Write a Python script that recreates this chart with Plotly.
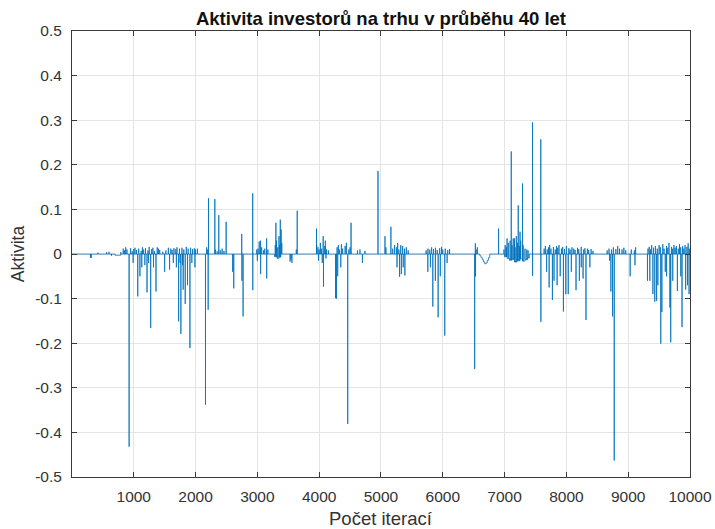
import numpy as np
import plotly.graph_objects as go

N_ITER = 10000

# Large individual trades: iteration index and activity value
spike_iter = [
    2210, 2312, 2376, 2495, 2747, 2925, 3030, 3050, 3150, 3300, 3371, 3385,
    3645, 3957, 4065, 4100, 4516, 4952, 5065, 5161, 6527, 6903, 7040, 7108,
    7160, 7221, 7250, 7290, 7452, 7586,
    925, 1065, 1100, 1215, 1274, 1360, 1500, 1580, 1726, 1763, 1800, 1833,
    1870, 1909, 2161, 2204, 2600, 2618, 2750, 2769, 2926, 3000, 3053, 3151,
    3559, 4070, 4265, 4280, 4350, 4462, 4700, 5301, 5330, 5387, 5758, 5839,
    5925, 6032, 6516, 7453, 7587, 7721, 7774, 7900, 7952, 7990, 8030, 8156,
    8210, 8270, 8317, 8380, 8700, 8720, 8747, 8774, 9032, 9110, 9312, 9400,
    9430, 9460, 9527, 9545, 9600, 9675, 9688, 9796, 9871, 9930, 9985,
]
spike_value = [
    0.125, 0.123, 0.087, 0.072, 0.045, 0.136, 0.028, 0.030, 0.035, 0.070, 0.077, 0.055,
    0.097, 0.057, 0.040, 0.030, 0.070, 0.186, 0.040, 0.061, 0.024, 0.057, 0.035, 0.230,
    0.035, 0.109, 0.050, 0.158, 0.295, 0.257,
    -0.432, -0.095, -0.050, -0.086, -0.166, -0.084, -0.040, -0.035, -0.151, -0.179, -0.080, -0.112,
    -0.070, -0.211, -0.338, -0.125, -0.040, -0.077, -0.060, -0.140, -0.081, -0.015, -0.045, -0.055,
    -0.020, -0.073, -0.099, -0.100, -0.030, -0.381, -0.020, -0.051, -0.045, -0.048, -0.040, -0.118,
    -0.142, -0.183, -0.258, -0.049, -0.152, -0.075, -0.103, -0.050, -0.129, -0.090, -0.090, -0.081,
    -0.060, -0.055, -0.148, -0.030, -0.015, -0.084, -0.140, -0.463, -0.050, -0.025, -0.060, -0.090,
    -0.107, -0.105, -0.201, -0.130, -0.040, -0.120, -0.198, -0.083, -0.164, -0.080, -0.090,
]

# Small everyday fluctuations
minor_iter = [
    300, 312, 420, 560, 600, 640, 790,
    830, 850, 870, 890, 950, 975, 990, 1000, 1020, 1045, 1080, 1120, 1130, 1140, 1160,
    1180, 1190, 1230, 1240, 1250, 1290, 1310, 1320, 1335, 1380, 1400, 1420, 1470, 1520,
    1560, 1600, 1620, 1640, 1650, 1680, 1690, 1700, 1740, 1750, 1780, 1790, 1810, 1850,
    1880, 1920, 1940, 1950, 1980, 1990, 2000, 2030, 2180, 2190,
    2320, 2350, 2400, 2430, 2460, 2990, 3010, 3070, 3100, 3120, 3170,
    3290, 3310, 3330, 3350, 3360, 3395, 3530, 3545, 3630,
    3960, 3980, 3990, 4000, 4020, 4040, 4050, 4090, 4110, 4120, 4150,
    4290, 4300, 4310, 4330, 4360, 4380, 4420, 4440, 4480, 4500,
    4620, 4660, 4700, 4740, 5080,
    5190, 5220, 5250, 5260, 5270, 5290, 5320, 5350, 5360, 5380, 5410, 5440,
    5730, 5760, 5790, 5800, 5820, 5850, 5880, 5881, 5910, 5950, 5960, 5980, 6000, 6040,
    6070, 6080, 6110, 6530, 6540, 6560,
    6990, 7010, 7030, 7060, 7090, 7120, 7140, 7170, 7190, 7210, 7240, 7260, 7300, 7330,
    7360, 7380,
    7640, 7660, 7680, 7690, 7710, 7730, 7750, 7790, 7800, 7820, 7840, 7850, 7860, 7880,
    7920, 7940, 7970, 8000, 8040, 8060, 8080, 8090, 8120, 8140, 8180, 8200, 8240, 8241,
    8280, 8300, 8340, 8360, 8400, 8430,
    8660, 8690, 8730, 8760, 8800, 8830, 8860, 8900, 8930, 8960, 9050, 9100, 9120,
    9320, 9340, 9350, 9360, 9380, 9410, 9440, 9470, 9480, 9500, 9520, 9560, 9580, 9620,
    9621, 9640, 9660, 9700, 9720, 9721, 9740, 9760, 9780, 9810, 9830, 9850, 9851, 9880,
    9900, 9920, 9950, 9960, 9970, 9990,
]
minor_value = [
    -0.008, -0.009, 0.003, 0.004, 0.005, -0.004, 0.004,
    0.012, 0.008, 0.015, 0.010, 0.013, 0.006, -0.020, 0.011, 0.014, 0.009, 0.012, 0.007, -0.030, 0.015, 0.010,
    -0.025, 0.013, 0.008, -0.020, 0.016, 0.011, 0.014, -0.030, 0.006, 0.015, 0.012, 0.009, 0.005, 0.008,
    0.014, 0.012, 0.009, -0.020, 0.013, 0.011, -0.030, 0.015, 0.012, -0.020, 0.014, -0.025, 0.010, 0.016,
    0.012, 0.014, -0.020, 0.011, 0.013, -0.030, 0.010, 0.012, 0.015, 0.010,
    0.010, 0.006, 0.008, 0.012, 0.007, 0.010, 0.012, 0.015, 0.008, 0.012, 0.010,
    0.020, 0.030, 0.015, 0.040, 0.020, 0.025, -0.017, -0.012, 0.010,
    0.020, 0.015, -0.015, 0.010, 0.025, 0.012, -0.020, 0.018, -0.010, 0.010, 0.008,
    0.015, -0.050, 0.020, 0.010, 0.022, 0.012, 0.018, 0.025, 0.010, 0.015,
    0.008, 0.010, 0.012, 0.007, 0.015,
    0.012, 0.020, 0.015, -0.030, 0.025, 0.010, 0.020, 0.018, -0.030, 0.012, 0.015, 0.008,
    0.008, 0.012, 0.010, -0.030, 0.015, 0.011, -0.060, 0.014, 0.009, 0.013, -0.050, 0.016, 0.010, 0.012,
    -0.020, 0.009, 0.011, -0.050, 0.010, 0.015,
    0.010, 0.020, 0.015, 0.025, 0.030, 0.020, 0.035, 0.015, 0.040, 0.025, 0.018, 0.030, 0.020, 0.012,
    0.010, 0.008,
    0.012, 0.018, -0.040, 0.010, 0.015, 0.020, 0.012, 0.016, -0.060, 0.010, 0.018, -0.070, 0.014, 0.020,
    0.012, 0.016, 0.011, 0.018, 0.013, 0.010, -0.040, 0.015, 0.012, 0.009, 0.014, 0.011, 0.016, -0.030,
    0.010, 0.013, 0.012, 0.009, 0.011, 0.007,
    0.008, 0.012, 0.010, 0.015, 0.011, 0.018, 0.012, 0.010, 0.014, 0.008, 0.010, 0.008, 0.015,
    0.012, 0.016, -0.060, 0.010, 0.020, 0.014, 0.018, 0.012, -0.070, 0.020, 0.015, 0.022, 0.012, 0.018,
    -0.050, 0.014, 0.025, 0.016, 0.012, -0.060, 0.020, 0.014, 0.018, 0.012, 0.022, 0.015, -0.050, 0.018,
    0.012, 0.020, 0.016, -0.070, 0.024, 0.012,
]

# Stretches where the activity stayed at a roughly constant level
run_start = [700, 3280, 3320, 3350, 6600, 6620, 6640, 6660, 6680, 6700, 6720, 6740,
             7000, 7040, 7080, 7120, 7160, 7200, 7250, 7290, 7330, 7370]
run_end = [790, 3320, 3350, 3380, 6620, 6640, 6660, 6680, 6700, 6720, 6740, 6760,
           7040, 7080, 7120, 7160, 7200, 7250, 7290, 7330, 7370, 7400]
run_level = [-0.003, -0.006, -0.010, -0.007, -0.004, -0.008, -0.013, -0.018, -0.022, -0.020,
             -0.014, -0.008, -0.006, -0.010, -0.014, -0.012, -0.018, -0.015, -0.011, -0.016,
             -0.013, -0.009]

y_tick_vals = [-0.5, -0.4, -0.3, -0.2, -0.1, 0, 0.1, 0.2, 0.3, 0.4, 0.5]
y_tick_text = ["-0.5", "-0.4", "-0.3", "-0.2", "-0.1", "0", "0.1", "0.2", "0.3", "0.4", "0.5"]
x_tick_vals = [1000, 2000, 3000, 4000, 5000, 6000, 7000, 8000, 9000, 10000]
x_tick_text = ["1000", "2000", "3000", "4000", "5000", "6000", "7000", "8000", "9000", "10000"]

# Assemble the activity series (iterations are 1-based)
iteration = np.arange(1, N_ITER + 1)
activity = np.zeros(N_ITER)
for s, e, lvl in zip(run_start, run_end, run_level):
    activity[s - 1:e] = lvl
for i, v in zip(minor_iter, minor_value):
    activity[i - 1] = v
for i, v in zip(spike_iter, spike_value):
    activity[i - 1] = v

AXIS_COLOR = "#3a3a3a"
FONT = "Liberation Sans, Arial, Helvetica, sans-serif"

fig = go.Figure(
    go.Scatter(
        x=iteration,
        y=activity,
        mode="lines",
        line=dict(color="#0072BD", width=0.8, simplify=False),
        hoverinfo="skip",
    )
)

axis_common = dict(
    showline=True,
    linecolor=AXIS_COLOR,
    linewidth=1,
    mirror="ticks",
    ticks="inside",
    ticklen=5,
    tickwidth=1,
    tickcolor=AXIS_COLOR,
    showgrid=True,
    gridcolor="#e4e4e4",
    gridwidth=1,
    zeroline=False,
    automargin=False,
    tickfont=dict(family=FONT, size=15.5, color="#333333"),
)

fig.update_xaxes(range=[1, N_ITER], tickvals=x_tick_vals, ticktext=x_tick_text,
                 ticklabelstandoff=5, **axis_common)
fig.update_yaxes(range=[-0.5, 0.5], tickvals=y_tick_vals, ticktext=y_tick_text,
                 ticklabelstandoff=6, **axis_common)

fig.update_layout(
    width=715,
    height=529,
    margin=dict(l=72, r=25, t=31, b=52),
    paper_bgcolor="white",
    plot_bgcolor="white",
    showlegend=False,
    title=dict(
        text="<b>Aktivita investorů na trhu v průběhu 40 let</b>",
        font=dict(family=FONT, size=18.5, color="#111111"),
        x=0.5, xref="paper", xanchor="center",
        y=1 - 19 / 529, yref="container", yanchor="middle",
    ),
    annotations=[
        dict(text="Počet iterací", xref="paper", yref="paper", x=0.5, y=-0.094,
             xanchor="center", yanchor="middle", showarrow=False,
             font=dict(family=FONT, size=18.5, color="#333333")),
        dict(text="Aktivita", xref="paper", yref="paper", x=-0.087, y=0.5,
             xanchor="center", yanchor="middle", textangle=-90, showarrow=False,
             font=dict(family=FONT, size=17.5, color="#333333")),
    ],
)

fig.write_html("out.html")
